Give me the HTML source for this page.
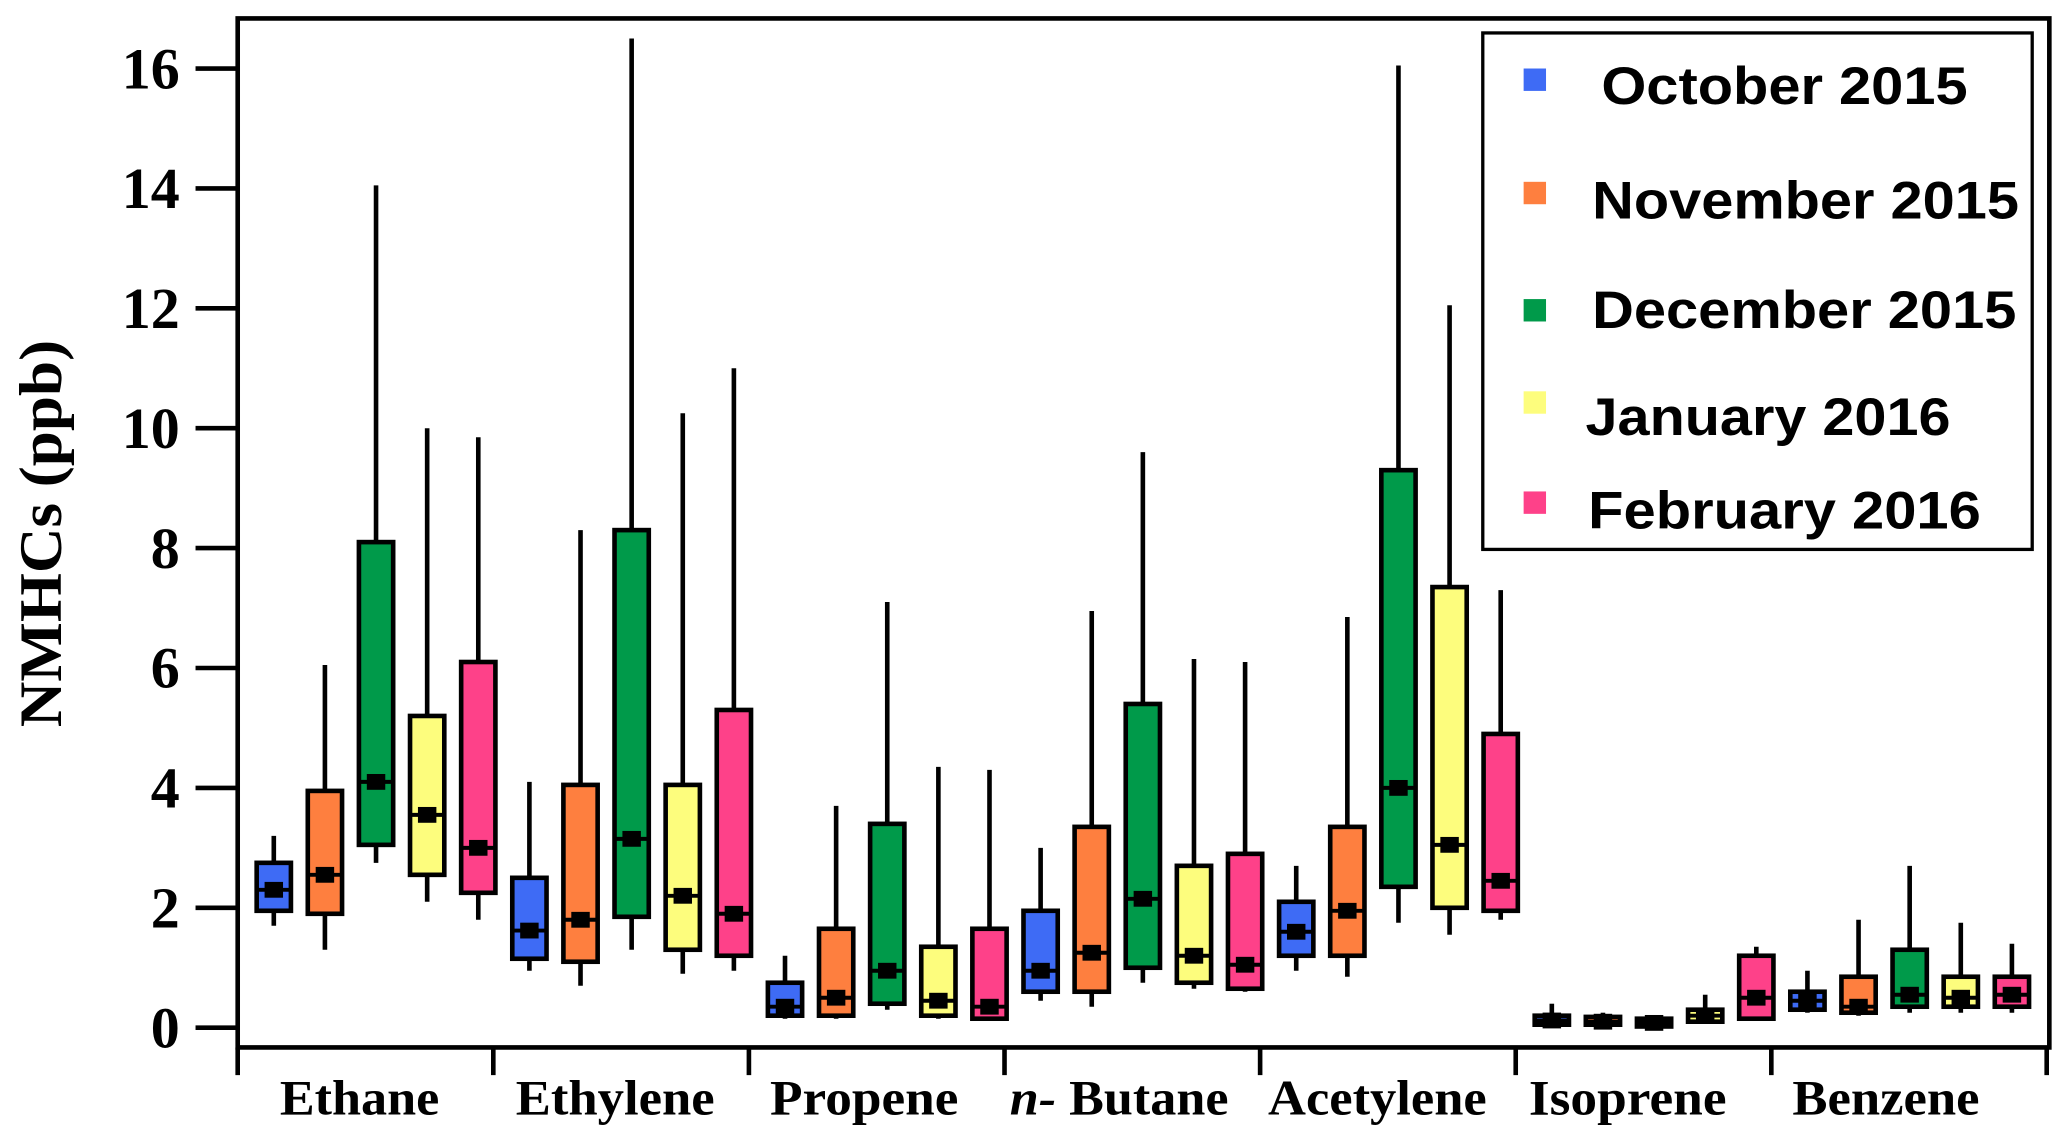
<!DOCTYPE html>
<html><head><meta charset="utf-8"><style>
html,body{margin:0;padding:0;background:#fff;}
svg{display:block;}
</style></head><body>
<svg id="chart" width="2067" height="1141" viewBox="0 0 1568 866" xmlns="http://www.w3.org/2000/svg">
<g id="axes"></g>
<g id="boxes"></g>
<g id="legend"></g>
</svg>
<script>
const categories = ["Ethane","Ethylene","Propene","n-Butane","Acetylene","Isoprene","Benzene"];
const months = ["October 2015","November 2015","December 2015","January 2016","February 2016"];
const monthColors = ["#3e6bf5","#fe7f3f","#009a4a","#fdfd7d","#fe4189"];
// each entry: [whiskerLow, q1, median, q3, whiskerHigh] per month
const ethane    = [[1.7,1.95,2.3,2.75,3.2],[1.3,1.9,2.55,3.95,6.05],[2.75,3.05,4.1,8.1,14.05],[2.1,2.55,3.55,5.2,10],[1.8,2.25,3.0,6.1,9.85]];
const ethylene  = [[0.95,1.15,1.62,2.5,4.1],[0.7,1.1,1.8,4.05,8.3],[1.3,1.85,3.15,8.3,16.5],[0.9,1.3,2.2,4.05,10.25],[0.95,1.2,1.9,5.3,11.0]];
const propene   = [[0.15,0.2,0.35,0.75,1.2],[0.15,0.2,0.5,1.65,3.7],[0.3,0.4,0.95,3.4,7.1],[0.15,0.2,0.45,1.35,4.35],[0.15,0.15,0.35,1.65,4.3]];
const nButane   = [[0.45,0.6,0.95,1.95,3.0],[0.35,0.6,1.25,3.35,6.95],[0.75,1.0,2.15,5.4,9.6],[0.65,0.75,1.2,2.7,6.15],[0.6,0.65,1.05,2.9,6.1]];
const acetylene = [[0.95,1.2,1.6,2.1,2.7],[0.85,1.2,1.95,3.35,6.85],[1.75,2.35,4.0,9.3,16.05],[1.55,2.0,3.05,7.35,12.05],[1.8,1.95,2.45,4.9,7.3]];
const isoprene  = [[0.0,0.05,0.12,0.2,0.4],[0.0,0.05,0.1,0.18,0.25],[0.0,0.02,0.08,0.15,0.18],[0.1,0.1,0.2,0.3,0.55],[0.15,0.15,0.5,1.2,1.35]];
const benzene   = [[0.25,0.3,0.45,0.6,0.95],[0.2,0.25,0.35,0.85,1.8],[0.25,0.35,0.55,1.3,2.7],[0.25,0.35,0.5,0.85,1.75],[0.25,0.35,0.55,0.85,1.4]];
const yTicks = [0,2,4,6,8,10,12,14,16];

const seriesData = [ethane,ethylene,propene,nButane,acetylene,isoprene,benzene];
const NS="http://www.w3.org/2000/svg";
const X0=180, X1=1555, YTOP=14, YAX=795, BAND=194, BAND0=180;
function yScale(v){ return 780 - (v/16)*728; }
function xScale(ci, mi){ return BAND0 + ci*BAND + 105 + (mi-2)*38.8; }
function mk(tag, attrs, parent){ const e=document.createElementNS(NS,tag); for(const k in attrs) e.setAttribute(k,attrs[k]); parent.appendChild(e); return e; }

const axes=document.getElementById('axes');
const frame=mk('path',{d:`M${X0},${YTOP} H${X1} V${YAX} H${X0} Z`,fill:'none',stroke:'#000','stroke-width':3.5},axes);


yTicks.forEach(t=>{
  const y=yScale(t);
  const tk=mk('line',{x1:148,x2:X0,y1:y,y2:y,stroke:'#000','stroke-width':3.5},axes);
  
  
  const tx=mk('text',{x:136,y:y+15,'text-anchor':'end','font-family':'Liberation Serif, serif','font-weight':'bold','font-size':44},axes);
  tx.textContent=t;
  if(String(t).length===2){ tx.setAttribute('textLength',44); tx.setAttribute('lengthAdjust','spacingAndGlyphs'); }
  
  
});
const yt=mk('text',{x:0,y:0,transform:'translate(46,405) rotate(-90)','text-anchor':'middle','font-family':'Liberation Serif, serif','font-weight':'bold','font-size':46,textLength:294,lengthAdjust:'spacingAndGlyphs'},axes);
yt.textContent='NMHCs (ppb)';


for(let i=0;i<=categories.length;i++){
  const x= i<categories.length ? BAND0+i*BAND : 1553;
  const tk=mk('line',{x1:x,x2:x,y1:YAX,y2:816,stroke:'#000','stroke-width':3.5},axes);
  
  
}
const catWidths=[121,151,143,166,166,150,142];
const catStarts=[212,391,584,766,962,1160,1360];
categories.forEach((c,i)=>{
  const tx=mk('text',{x:catStarts[i],y:846,'font-family':'Liberation Serif, serif','font-weight':'bold','font-size':38,textLength:catWidths[i],lengthAdjust:'spacingAndGlyphs'},axes);
  if(c==='n-Butane'){
    const a=document.createElementNS(NS,'tspan'); a.setAttribute('font-style','italic'); a.textContent='n-'; tx.appendChild(a);
    const b=document.createElementNS(NS,'tspan'); b.textContent=' Butane'; tx.appendChild(b);
  } else tx.textContent=c;
  
  
});

const boxes=document.getElementById('boxes');
seriesData.forEach((cat,ci)=>{
  cat.forEach((d,mi)=>{
    const [lo,q1,md,q3,hi]=d;
    const cx=xScale(ci,mi), w=26;
    const g=mk('g',{},boxes);
    
    
    mk('line',{x1:cx,x2:cx,y1:yScale(hi),y2:yScale(lo),stroke:'#000','stroke-width':3.5},g);
    mk('rect',{x:cx-w/2,y:yScale(q3),width:w,height:Math.max(yScale(q1)-yScale(q3),4),fill:monthColors[mi],stroke:'#000','stroke-width':3.5},g);
    mk('line',{x1:cx-w/2,x2:cx+w/2,y1:yScale(md),y2:yScale(md),stroke:'#000','stroke-width':3},g);
    mk('rect',{x:cx-7,y:yScale(md)-6,width:14,height:12,fill:'#000'},g);
  });
});

const lg=document.getElementById('legend');
const lb=mk('rect',{x:1125,y:25,width:417,height:392,fill:'#fff',stroke:'#000','stroke-width':2.5},lg);


const legY=[60,146,235,305,381], legTX=[1215,1208,1208,1203,1205], legTY=[65,152,235,316,387];
const legW=[278,324,322,277,298];
months.forEach((m,i)=>{
  const g=mk('g',{},lg);
  
  
  mk('rect',{x:1156,y:legY[i]-8,width:17,height:17,fill:monthColors[i]},g);
  const t=mk('text',{x:legTX[i],y:legTY[i]+14,'font-family':'Liberation Sans, sans-serif','font-weight':'bold','font-size':40,textLength:legW[i],lengthAdjust:'spacingAndGlyphs'},g);
  t.textContent=m;
});
</script>
</body></html>
